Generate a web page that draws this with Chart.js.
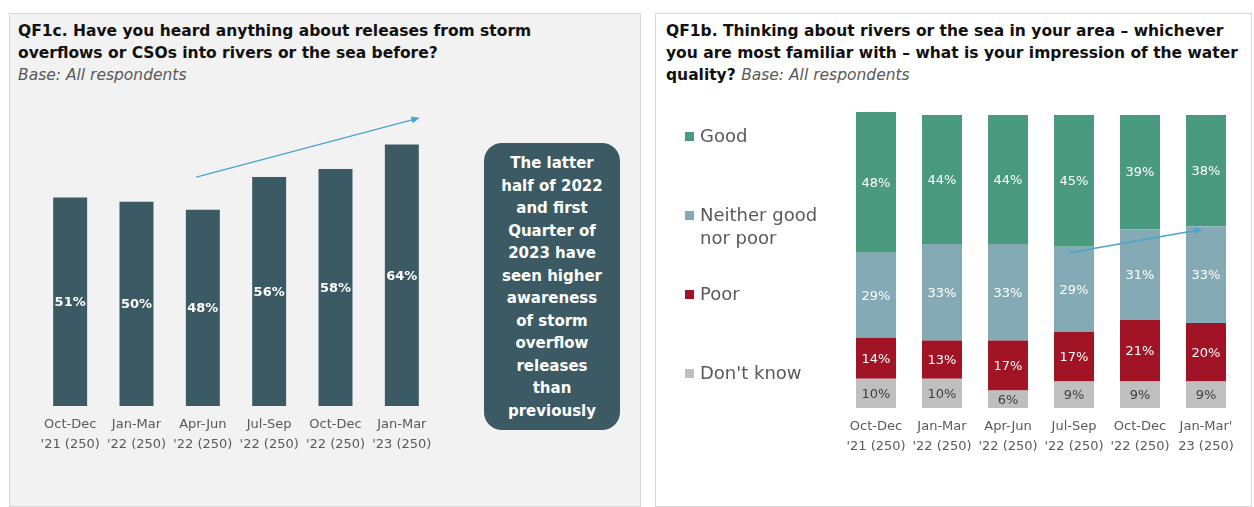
<!DOCTYPE html>
<html>
<head>
<meta charset="utf-8">
<script src="https://cdn.jsdelivr.net/npm/chart.js@4.4.0/dist/chart.umd.min.js"></script>
<style>
  body { margin: 0; width: 1254px; height: 507px; background: #fff; position: relative; overflow: hidden; font-family: "DejaVu Sans", sans-serif; }
  .bg { position: absolute; box-sizing: border-box; }
  #leftBg { left: 9px; top: 13px; width: 632px; height: 494px; background: #f2f2f2; border: 1px solid #d9d9d9; }
  #rightBg { left: 655px; top: 13px; width: 597px; height: 494px; background: #fff; border: 1px solid #d9d9d9; }
  canvas { position: absolute; }
  .title { position: absolute; font-weight: bold; font-size: 15.5px; line-height: 22px; color: #111; white-space: nowrap; }
  .base { font-style: italic; font-weight: normal; color: #595959; }
  .callout { position: absolute; left: 484px; top: 143px; width: 136px; height: 287px; background: #3b5a63; border-radius: 18px;
    color: #fff; font-weight: bold; font-size: 15px; line-height: 22.5px; text-align: center; box-sizing: border-box; padding-top: 9px; }
  .legend { position: absolute; left: 685px; font-size: 18px; line-height: 23px; color: #595959; }
  .legend span { display: inline-block; width: 9px; height: 9px; margin-right: 6px; vertical-align: 1px; }
</style>
</head>
<body>
<div class="bg" id="leftBg"></div>
<div class="bg" id="rightBg"></div>

<div class="title" style="left:18px; top:20px;">QF1c. Have you heard anything about releases from storm<br>overflows or CSOs into rivers or the sea before?<br><span class="base">Base: All respondents</span></div>
<div class="title" style="left:666px; top:20px;">QF1b. Thinking about rivers or the sea in your area – whichever<br>you are most familiar with – what is your impression of the water<br>quality? <span class="base">Base: All respondents</span></div>

<canvas id="awareChart" width="632" height="494" style="left:9px; top:13px;"></canvas>
<canvas id="qualityChart" width="597" height="494" style="left:655px; top:13px;"></canvas>

<div class="callout">The latter<br>half of 2022<br>and first<br>Quarter of<br>2023 have<br>seen higher<br>awareness<br>of storm<br>overflow<br>releases<br>than<br>previously</div>

<div class="legend" style="top:124px;"><span style="background:#4a9a7f"></span>Good</div>
<div class="legend" style="top:203px;"><span style="background:#84abb5"></span>Neither good<br><span style="background:none"></span>nor poor</div>
<div class="legend" style="top:282px;"><span style="background:#a01426"></span>Poor</div>
<div class="legend" style="top:361px;"><span style="background:#bfbfbf"></span>Don't know</div>

<script>
// shared wave labels
const wavesLeft = [
  ["Oct-Dec", "'21 (250)"], ["Jan-Mar", "'22 (250)"], ["Apr-Jun", "'22 (250)"],
  ["Jul-Sep", "'22 (250)"], ["Oct-Dec", "'22 (250)"], ["Jan-Mar", "'23 (250)"]
];
const wavesRight = [
  ["Oct-Dec", "'21 (250)"], ["Jan-Mar", "'22 (250)"], ["Apr-Jun", "'22 (250)"],
  ["Jul-Sep", "'22 (250)"], ["Oct-Dec", "'22 (250)"], ["Jan-Mar'", "23 (250)"]
];

// QF1c - heard about releases
const heardPct = [51, 50, 48, 56, 58, 64];

// QF1b - water quality impression
const goodPct = [48, 44, 44, 45, 39, 38];
const neitherPct = [29, 33, 33, 29, 31, 33];
const poorPct = [14, 13, 17, 17, 21, 20];
const dontKnowPct = [10, 10, 6, 9, 9, 9];

const tickStyle = { color: "#595959", font: { family: "DejaVu Sans", size: 13, lineHeight: "20px" }, padding: 9, maxRotation: 0, autoSkip: false };

// writes the % value in the middle of each bar segment
const barLabels = {
  id: "barLabels",
  afterDatasetsDraw(chart) {
    const ctx = chart.ctx;
    chart.data.datasets.forEach((ds, i) => {
      const meta = chart.getDatasetMeta(i);
      meta.data.forEach((bar, j) => {
        const p = bar.getProps(["x", "y", "base"], true);
        ctx.save();
        ctx.fillStyle = ds.labelColor;
        ctx.font = ds.labelFont;
        ctx.textAlign = "center";
        ctx.textBaseline = "middle";
        ctx.fillText(ds.data[j] + "%", p.x, (p.y + p.base) / 2 + 1);
        ctx.restore();
      });
    });
  }
};

// thin trend arrow, given in data units
const trendArrow = {
  id: "trendArrow",
  afterDatasetsDraw(chart, args, opts) {
    const xs = chart.scales.x, ys = chart.scales.y;
    const x1 = xs.getPixelForValue(opts.from[0]), y1 = ys.getPixelForValue(opts.from[1]);
    const x2 = xs.getPixelForValue(opts.to[0]), y2 = ys.getPixelForValue(opts.to[1]);
    const a = Math.atan2(y2 - y1, x2 - x1);
    const ctx = chart.ctx;
    ctx.save();
    ctx.strokeStyle = "#4ba3cf";
    ctx.fillStyle = "#4ba3cf";
    ctx.lineWidth = 1.5;
    ctx.beginPath();
    ctx.moveTo(x1, y1);
    ctx.lineTo(x2 - 6 * Math.cos(a), y2 - 6 * Math.sin(a));
    ctx.stroke();
    ctx.beginPath();
    ctx.moveTo(x2, y2);
    ctx.lineTo(x2 - 9 * Math.cos(a - 0.4), y2 - 9 * Math.sin(a - 0.4));
    ctx.lineTo(x2 - 9 * Math.cos(a + 0.4), y2 - 9 * Math.sin(a + 0.4));
    ctx.closePath();
    ctx.fill();
    ctx.restore();
  }
};

new Chart(document.getElementById("awareChart"), {
  type: "bar",
  data: {
    labels: wavesLeft,
    datasets: [{
      data: heardPct,
      backgroundColor: "#3b5a63",
      categoryPercentage: 1,
      barPercentage: 0.512,
      labelColor: "#ffffff",
      labelFont: "bold 13px 'DejaVu Sans'"
    }]
  },
  options: {
    responsive: false,
    animation: false,
    layout: { padding: { left: 28, right: 206, top: 66, bottom: 43 } },
    plugins: {
      legend: { display: false },
      tooltip: { enabled: false },
      trendArrow: { from: [1.9, 56], to: [5.27, 70.5] }
    },
    scales: {
      x: { grid: { display: false, drawTicks: false }, border: { display: false }, ticks: tickStyle },
      y: { display: false, min: 0, max: 80 }
    }
  },
  plugins: [barLabels, trendArrow]
});

new Chart(document.getElementById("qualityChart"), {
  type: "bar",
  data: {
    labels: wavesRight,
    datasets: [
      { label: "Don't know", data: dontKnowPct, backgroundColor: "#bfbfbf", labelColor: "#404040", labelFont: "13px 'DejaVu Sans'" },
      { label: "Poor", data: poorPct, backgroundColor: "#a01426", labelColor: "#ffffff", labelFont: "13px 'DejaVu Sans'" },
      { label: "Neither good nor poor", data: neitherPct, backgroundColor: "#84abb5", labelColor: "#ffffff", labelFont: "13px 'DejaVu Sans'" },
      { label: "Good", data: goodPct, backgroundColor: "#4a9a7f", labelColor: "#ffffff", labelFont: "13px 'DejaVu Sans'" }
    ].map(d => Object.assign(d, { categoryPercentage: 1, barPercentage: 0.606 }))
  },
  options: {
    responsive: false,
    animation: false,
    layout: { padding: { left: 188, right: 13, top: 99, bottom: 41 } },
    plugins: {
      legend: { display: false },
      tooltip: { enabled: false },
      trendArrow: { from: [2.93, 53], to: [4.95, 61] }
    },
    scales: {
      x: { stacked: true, grid: { display: false, drawTicks: false }, border: { display: false }, ticks: tickStyle },
      y: { stacked: true, display: false, min: 0, max: 101 }
    }
  },
  plugins: [barLabels, trendArrow]
});
</script>
</body>
</html>
